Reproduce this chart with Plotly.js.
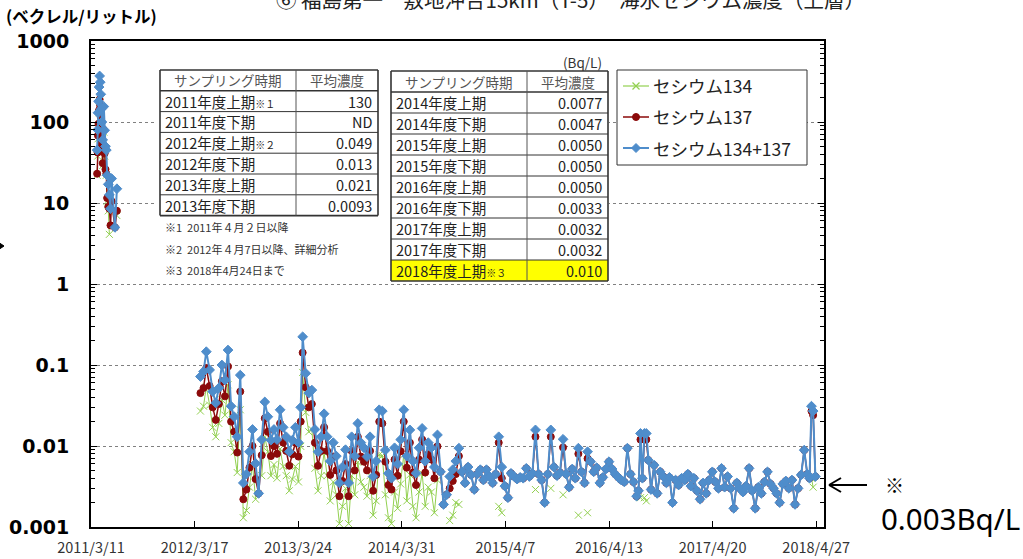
<!DOCTYPE html>
<html><head><meta charset="utf-8">
<script src="https://cdn.plot.ly/plotly-3.0.1.min.js"></script>
<style>html,body{margin:0;padding:0;background:#fff}#chart{width:1023px;height:559px}</style>
</head><body><div id="chart"></div><script>
// ---------------- DATA ----------------
// FY2011 sampling (after 2011/4/2)
const dates2011 = ['2011-04-02','2011-04-04','2011-04-05','2011-04-07','2011-04-09','2011-04-11','2011-04-13','2011-04-15','2011-04-17','2011-04-19','2011-04-22','2011-04-26','2011-04-29','2011-05-02','2011-05-05','2011-05-08','2011-05-12','2011-05-16','2011-05-20','2011-05-24','2011-06-05','2011-06-12'];
const total2011 = [45,80,130,180,270,370,310,220,145,100,60,155,79,50,45,22,17,12.6,8.5,20,5.0,15];
const cs137_2011 = [23,42,68,95,140,190,160,115,75,52,31,80,41,26,23,11.5,9,8.5,5.3,10.5,5.0,8];
const cs134_2011 = [22,38,62,85,130,180,150,105,70,48,29,75,38,24,22,10.5,8,4.1,null,9.5,null,7];

// 2012/4/7 - 2018/4/24 sampling
const dates = [
'2012-04-07','2012-04-18','2012-04-28','2012-05-10','2012-05-21','2012-06-01','2012-06-12','2012-06-23','2012-07-04','2012-07-15','2012-07-26','2012-08-06','2012-08-17','2012-08-28','2012-09-08','2012-09-19','2012-09-30','2012-10-11','2012-10-22','2012-11-02','2012-11-13','2012-11-24','2012-12-05','2012-12-16','2012-12-27',
'2013-01-07','2013-01-18','2013-01-29','2013-02-09','2013-02-20','2013-03-03','2013-03-14','2013-03-25','2013-04-02','2013-04-09','2013-04-20','2013-05-01','2013-05-12','2013-05-23','2013-06-03','2013-06-14','2013-06-25','2013-07-06','2013-07-17','2013-07-28','2013-08-08','2013-08-19','2013-08-30','2013-09-10','2013-09-21','2013-10-02','2013-10-13','2013-10-24','2013-11-04','2013-11-15','2013-11-26','2013-12-07','2013-12-18','2013-12-29',
'2014-01-09','2014-01-20','2014-01-31','2014-02-11','2014-02-22','2014-03-05','2014-03-16','2014-03-27','2014-04-07','2014-04-18','2014-04-29','2014-05-10','2014-05-21','2014-06-01','2014-06-12','2014-06-23','2014-07-04','2014-07-15','2014-07-26','2014-08-06','2014-08-17','2014-08-28','2014-09-08','2014-09-19','2014-09-30','2014-10-11','2014-10-22','2014-11-02','2014-11-13','2014-11-24','2014-12-05','2014-12-16','2014-12-27',
'2015-01-07','2015-01-18','2015-01-29','2015-02-09','2015-02-20','2015-03-03','2015-03-14','2015-03-25','2015-04-05','2015-04-16','2015-04-27','2015-05-08','2015-05-19','2015-05-30','2015-06-10','2015-06-21','2015-07-02','2015-07-13','2015-07-24','2015-08-04','2015-08-15','2015-08-26','2015-09-06','2015-09-17','2015-09-28','2015-10-09','2015-10-20','2015-10-31','2015-11-11','2015-11-22','2015-12-03','2015-12-14','2015-12-25',
'2016-01-05','2016-01-16','2016-01-27','2016-02-07','2016-02-18','2016-02-29','2016-03-11','2016-03-22','2016-04-02','2016-04-13','2016-04-24','2016-05-05','2016-05-16','2016-05-27','2016-06-07','2016-06-18','2016-06-29','2016-07-10','2016-07-21','2016-07-28','2016-08-04','2016-08-11','2016-08-18','2016-08-25','2016-09-01','2016-09-11','2016-09-22','2016-10-03','2016-10-14','2016-10-25','2016-11-05','2016-11-16','2016-11-27','2016-12-08','2016-12-19','2016-12-30',
'2017-01-10','2017-01-21','2017-02-01','2017-02-12','2017-02-23','2017-03-06','2017-03-17','2017-03-28','2017-04-08','2017-04-19','2017-04-30','2017-05-11','2017-05-22','2017-06-02','2017-06-13','2017-06-24','2017-07-05','2017-07-16','2017-07-27','2017-08-07','2017-08-18','2017-08-29','2017-09-09','2017-09-20','2017-10-01','2017-10-12','2017-10-23','2017-11-03','2017-11-14','2017-11-25','2017-12-06','2017-12-17','2017-12-28',
'2018-01-08','2018-01-19','2018-01-30','2018-02-10','2018-02-21','2018-03-04','2018-03-15','2018-03-26','2018-04-03','2018-04-10','2018-04-16','2018-04-24'];

const total = [
0.072,0.083,0.146,0.087,0.047,0.034,0.052,0.100,0.065,0.153,0.031,0.023,0.013,0.075,0.0035,0.0045,0.0085,0.016,0.0061,0.0026,0.012,0.035,0.023,0.0118,0.016,
0.012,0.028,0.017,0.013,0.0085,0.0118,0.017,0.011,0.030,0.223,0.079,0.045,0.049,0.016,0.0085,0.013,0.025,0.013,0.0065,0.011,0.0075,0.0035,0.0055,0.0090,0.0035,0.013,0.0075,0.019,0.011,0.0095,0.0074,0.013,0.0042,0.0065,
0.028,0.027,0.0089,0.0046,0.0040,0.0095,0.0060,0.012,0.028,0.0075,0.0158,0.0065,0.0046,0.0095,0.0165,0.0065,0.011,0.0095,0.0055,0.0137,0.0048,0.0019,0.0025,0.0042,0.0051,0.0065,0.0094,0.0048,0.0035,0.0055,0.0044,0.0029,0.0045,
0.0051,0.0038,0.0051,0.0042,0.0035,0.0045,0.013,0.0055,0.0032,0.0023,0.0046,0.0042,0.0039,0.0041,0.0040,0.0053,0.0042,0.0046,0.0158,0.0045,0.0038,0.0020,0.0045,0.0158,0.0055,0.0043,0.0047,0.0121,0.0045,0.0031,0.0052,0.0040,0.0094,
0.0048,0.0035,0.0085,0.0064,0.0048,0.0054,0.0035,0.0041,0.0052,0.0064,0.0052,0.0045,0.0041,0.0038,0.0036,0.0094,0.0045,0.0036,0.0024,0.0028,0.0143,0.0040,0.0143,0.0143,0.0067,0.0029,0.0058,0.0026,0.0048,0.0042,0.0035,0.0041,0.0020,0.0038,0.0033,0.0040,
0.0038,0.0045,0.0032,0.0040,0.0028,0.0022,0.0035,0.0026,0.0038,0.0048,0.0036,0.0030,0.0053,0.0031,0.0042,0.0030,0.0017,0.0035,0.0030,0.0027,0.0032,0.0053,0.0028,0.0017,0.0031,0.0026,0.0036,0.0048,0.0034,0.0030,0.0026,0.0020,0.0034,
0.0037,0.0030,0.0038,0.0019,0.0030,0.0044,0.0089,0.0045,0.0040,0.031,0.027,0.0042];

const cs137 = [
0.045,0.052,0.092,0.055,0.030,0.021,0.033,0.063,0.041,0.096,0.020,0.015,0.0083,0.047,0.0022,0.0029,0.0054,0.010,0.0039,0.0026,0.0077,0.022,0.015,0.0075,0.010,
0.0080,0.019,0.011,0.0087,0.0057,0.0079,0.011,0.0074,0.020,0.142,0.053,0.030,0.033,0.011,0.0057,0.0087,0.017,0.0087,0.0044,0.0074,0.0050,0.0024,0.0037,0.0060,0.0024,0.0087,0.0050,0.013,0.0074,0.0064,0.0050,0.0087,0.0028,0.0044,
0.020,0.019,0.0064,0.0033,0.0029,0.0068,0.0043,0.0086,0.020,0.0054,0.011,0.0047,0.0033,0.0068,0.012,0.0047,0.0079,0.0068,0.0040,0.0099,0.0048,0.0019,0.0025,0.0030,0.0037,0.0045,0.0075,0.0048,0.0035,0.0055,0.0044,0.0029,0.0045,
0.0051,0.0038,0.0051,0.0042,0.0035,0.0045,0.011,0.0040,0.0032,0.0023,0.0046,0.0042,0.0039,0.0041,0.0040,0.0053,0.0042,0.0046,0.013,0.0045,0.0038,0.0020,0.0045,0.013,0.0055,0.0043,0.0047,0.0096,0.0045,0.0031,0.0052,0.0040,0.0080,
0.0048,0.0035,0.0070,0.0064,0.0048,0.0054,0.0035,0.0041,0.0052,0.0064,0.0052,0.0045,0.0041,0.0038,0.0036,0.0094,0.0045,0.0036,0.0024,0.0028,0.012,0.0040,0.012,0.012,0.0067,0.0029,0.0058,0.0026,0.0048,0.0042,0.0035,0.0041,0.0020,0.0038,0.0033,0.0040,
0.0038,0.0045,0.0032,0.0040,0.0028,0.0022,0.0035,0.0026,0.0038,0.0048,0.0036,0.0030,0.0053,0.0031,0.0042,0.0030,0.0017,0.0035,0.0030,0.0027,0.0032,0.0053,0.0028,0.0017,0.0031,0.0026,0.0036,0.0048,0.0034,0.0030,0.0026,0.0020,0.0034,
0.0037,0.0030,0.0038,0.0019,0.0030,0.0044,0.0089,0.0045,0.0040,0.027,0.024,0.0042];

const cs134 = [
0.027,0.031,0.054,0.032,0.017,0.013,0.019,0.037,0.024,0.057,0.011,0.0085,0.0047,0.028,0.0013,0.0016,0.0031,0.0059,0.0022,null,0.0043,0.013,0.0085,0.0043,0.0059,
0.0040,0.0092,0.0056,0.0043,0.0028,0.0039,0.0056,0.0036,0.0099,0.081,0.026,0.015,0.016,0.0053,0.0028,0.0043,0.0083,0.0043,0.0021,0.0036,0.0025,0.0011,0.0018,0.0030,0.0011,0.0043,0.0025,0.0063,0.0036,0.0031,0.0024,0.0043,0.0014,0.0021,
0.0078,0.0076,0.0025,0.0013,0.0011,0.0027,0.0017,0.0034,0.0078,0.0021,0.0044,0.0018,0.0013,0.0027,0.0046,0.0018,0.0031,0.0027,0.0015,0.0038,null,null,null,0.0012,0.0014,0.0020,0.0019,null,null,null,null,null,null,
null,null,null,null,null,null,0.0018,0.0015,null,null,null,null,null,null,null,null,null,null,0.0029,null,null,null,null,0.0030,null,null,null,0.0025,null,null,null,null,0.0014,
null,null,0.0015,null,null,null,null,null,null,null,null,null,null,null,null,null,null,null,null,null,0.0023,null,0.0023,0.0021,null,null,null,null,null,null,null,null,null,null,null,null,
null,null,null,null,null,null,null,null,null,null,null,null,null,null,null,null,null,null,null,null,null,null,null,null,null,null,null,null,null,null,null,null,null,
null,null,null,null,null,null,null,null,null,0.0040,0.0031,null];

// axis ticks
const xTickStart = '2011-03-11';
const xTickStepDays = 372;
const xRange = ['2011-03-11','2018-05-25'];

// Tables
const tableHeads = ['サンプリング時期','平均濃度'];
const periodsA = ['2011年度上期','2011年度下期','2012年度上期','2012年度下期','2013年度上期','2013年度下期'];
const marksA = ['※１','','※２','','',''];
const meansA = ['130','ND','0.049','0.013','0.021','0.0093'];
const periodsB = ['2014年度上期','2014年度下期','2015年度上期','2015年度下期','2016年度上期','2016年度下期','2017年度上期','2017年度下期','2018年度上期'];
const marksB = ['','','','','','','','','※３'];
const meansB = ['0.0077','0.0047','0.0050','0.0050','0.0050','0.0033','0.0032','0.0032','0.010'];
const footnotes = ['※1  2011年４月２日以降','※2  2012年４月7日以降、詳細分析','※3  2018年4月24日まで'];
const unitLabel = '(Bq/L)';
const seriesNames = ['セシウム134','セシウム137','セシウム134+137'];

// ---------------- LAYOUT HELPERS ----------------
const L=91, R=824, T=41, B=527;
const px = x => (x-L)/(R-L);
const py = y => (B-y)/(B-T);
const JP = '"Noto Sans CJK JP", "Noto Sans", sans-serif';
const GREEN='#92D050', RED='#8B0A0A', BLUE='#4F8DCB';

const shapes=[], ann=[];
function rect(x0,y0,x1,y1,fill,lw,lc){shapes.push({type:'rect',xref:'paper',yref:'paper',layer:'above',x0:px(x0),x1:px(x1),y0:py(y0),y1:py(y1),fillcolor:fill||'rgba(0,0,0,0)',line:{width:lw||0,color:lc||'#333'}});}
function seg(x0,y0,x1,y1,c,w){shapes.push({type:'line',xref:'paper',yref:'paper',layer:'above',x0:px(x0),x1:px(x1),y0:py(y0),y1:py(y1),line:{color:c,width:w}});}
function txt(x,y,t,size,xa,color,extra){ann.push(Object.assign({xref:'paper',yref:'paper',x:px(x),y:py(y),text:t,showarrow:false,xanchor:xa||'left',yanchor:'middle',font:{family:JP,size:size,color:color||'#333'}},extra||{}));}

// white background behind the tables
rect(156,50,609,282,'#fff',0);

function table(x0,xd,x1,y0,rh,periods,marks,means,highlightLast){
  const n=periods.length+1;
  if(highlightLast) rect(x0,y0+rh*(n-1),x1,y0+rh*n,'#FFFF00',0);
  for(let i=0;i<=n;i++) seg(x0,y0+rh*i,x1,y0+rh*i,'#333',(i===0||i===n||i===1)?1.6:1);
  seg(x0,y0,x0,y0+rh*n,'#333',1.6); seg(x1,y0,x1,y0+rh*n,'#333',1.6); seg(xd,y0,xd,y0+rh*n,'#555',1);
  txt((x0+xd)/2,y0+rh*0.5,tableHeads[0],13.5,'center','#555');
  txt((xd+x1)/2,y0+rh*0.5,tableHeads[1],13.5,'center','#555');
  periods.forEach((p,i)=>{
    const yc=y0+rh*(i+1.5);
    const m = marks[i] ? '<span style="font-size:10px">'+marks[i]+'</span>' : '';
    txt(x0+3,yc,p+m,14.5,'left','#222');
    txt(x1-4,yc,means[i],14.5,'right','#222');
  });
}
table(160,296,378,70,20.8,periodsA,marksA,meansA,false);
table(391,527,608,71,21,periodsB,marksB,meansB,true);
footnotes.forEach((f,i)=>txt(163,227+i*21.5,f,11,'left','#333'));
txt(604,62,unitLabel,13.5,'right','#333');

// manual legend
rect(617,70,807,165,'#fff',1,'#333');
const legY=[86,117,148];
seg(623,legY[0],649,legY[0],GREEN,1.2);
seg(632.5,legY[0]-3.5,639.5,legY[0]+3.5,GREEN,1.2); seg(632.5,legY[0]+3.5,639.5,legY[0]-3.5,GREEN,1.2);
seg(623,legY[1],649,legY[1],RED,1.5);
shapes.push({type:'circle',xref:'paper',yref:'paper',layer:'above',x0:px(632.5),x1:px(639.5),y0:py(legY[1]-3.5),y1:py(legY[1]+3.5),fillcolor:RED,line:{color:RED,width:1}});
seg(623,legY[2],649,legY[2],BLUE,2);
shapes.push({type:'path',xref:'paper',yref:'paper',layer:'above',path:`M ${px(636)} ${py(legY[2]-4.5)} L ${px(640.5)} ${py(legY[2])} L ${px(636)} ${py(legY[2]+4.5)} L ${px(631.5)} ${py(legY[2])} Z`,fillcolor:BLUE,line:{color:BLUE,width:1}});
seriesNames.forEach((s,i)=>txt(651,legY[i],s,17.5,'left','#222'));

// right-side arrow + note
seg(829,485,867,485,'#000',2);
seg(829,485,841,478,'#000',2); seg(829,485,841,492,'#000',2);
txt(883,484,'※',19,'left','#000');
ann.push({xref:'paper',yref:'paper',x:px(879),y:py(518),text:'0.003Bq/L',showarrow:false,xanchor:'left',yanchor:'middle',font:{family:'"Noto Sans", sans-serif',size:29.5,color:'#000'}});

// small arrow at left edge (cut)
shapes.push({type:'path',xref:'paper',yref:'paper',layer:'above',path:`M ${px(-2)} ${py(242)} L ${px(4)} ${py(246)} L ${px(-2)} ${py(250)} Z`,fillcolor:'#000',line:{color:'#000',width:1}});

// axis unit title and chart title (cut off at top edge as in the source image)
txt(4,16,'(ベクレル/リットル)',16.5,'left','#000',{font:{family:JP,size:16.5,color:'#000',weight:'bold'}});
txt(570,-1,'⑥ 福島第一　敷地沖合15km（T-5）　海水セシウム濃度（上層）',20.5,'center','#222');

// ---------------- TRACES ----------------
function tr(x,y,color,sym,size,lw,opts){
  return Object.assign({type:'scatter',mode:'lines+markers',x:x,y:y,showlegend:false,hoverinfo:'skip',
    line:{color:color,width:lw},marker:{symbol:sym,size:size,color:color,line:{color:color,width:1}}},opts||{});
}
const data=[
  tr(dates2011,cs134_2011,GREEN,'x-thin-open',7,1,{connectgaps:false}),
  tr(dates,cs134,GREEN,'x-thin-open',7,1,{connectgaps:false}),
  tr(dates2011,cs137_2011,RED,'circle',7,1.5),
  tr(dates,cs137,RED,'circle',7,1.5),
  tr(dates2011,total2011,BLUE,'diamond',7.5,2),
  tr(dates,total,BLUE,'diamond',7.5,2)
];

const layout={
  width:1023,height:559,margin:{l:L,r:1023-R,t:T,b:559-B,pad:0},
  paper_bgcolor:'#fff',plot_bgcolor:'#fff',showlegend:false,
  font:{family:JP,color:'#333'},
  xaxis:{type:'date',range:xRange,tickmode:'linear',tick0:xTickStart,dtick:xTickStepDays*864e5,tickformat:'%Y/%-m/%-d',
    ticks:'inside',ticklen:6,tickcolor:'#000',tickwidth:1,showline:true,linecolor:'#000',linewidth:2,mirror:true,
    showgrid:false,zeroline:false,tickfont:{family:JP,size:14.5,color:'#333'},ticklabelstandoff:7},
  yaxis:{type:'log',range:[-3,3],tickmode:'linear',tick0:0,dtick:1,exponentformat:'none',
    ticks:'inside',ticklen:6,tickcolor:'#000',showline:true,linecolor:'#000',linewidth:2,mirror:'ticks',
    showgrid:true,gridcolor:'#808080',griddash:'dot',gridwidth:1,zeroline:false,
    minor:{dtick:'D1',ticks:'inside',ticklen:4,tickcolor:'#000',showgrid:false},
    tickfont:{family:'"DejaVu Sans", sans-serif',size:19,color:'#000',weight:'bold'},ticklabelstandoff:16},
  shapes:shapes,annotations:ann
};
Plotly.newPlot('chart',data,layout,{displayModeBar:false,staticPlot:true});
</script></body></html>
